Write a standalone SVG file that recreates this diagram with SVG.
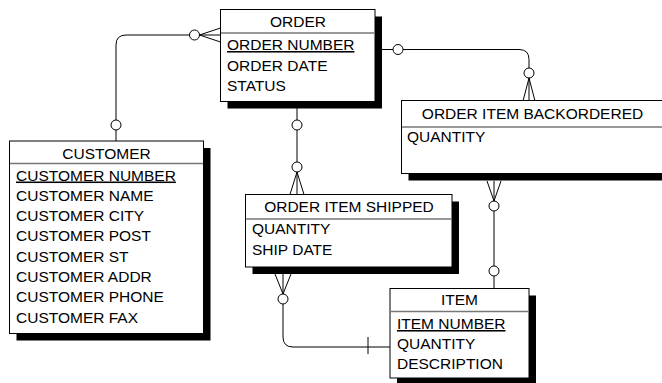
<svg xmlns="http://www.w3.org/2000/svg" width="662" height="383" viewBox="0 0 662 383">
<style>
.box{fill:#fff;stroke:#000;stroke-width:1}
.sh{fill:#000}
.sep{stroke:#777;stroke-width:1.5}
text{font-family:"Liberation Sans",Arial,sans-serif;font-size:15.5px;fill:#000}
.h{text-anchor:middle}
.u{text-decoration:underline}
.c{fill:none;stroke:#000;stroke-width:1}
.o{fill:#fff;stroke:#000;stroke-width:1}
</style>
<rect width="662" height="383" fill="#fff"/>
<g id="connectors">
<path class="c" d="M116,141 V130 M116,120 V45 Q116,35 126,35 H189.5"/>
<circle class="o" cx="116" cy="125" r="5"/>
<circle class="o" cx="194.5" cy="35" r="5"/>
<path class="c" d="M199.5,35 L220.5,28 M199.5,35 L220.5,35 M199.5,35 L220.5,42"/>
<path class="c" d="M382,49.5 H393 M403,49.5 H519 Q529,49.5 529,59.5 V68"/>
<circle class="o" cx="398" cy="49.5" r="5"/>
<circle class="o" cx="529" cy="73" r="5"/>
<path class="c" d="M529,78 L523,101 M529,78 L529,101 M529,78 L535,101"/>
<path class="c" d="M297,108 V120 M297,130 V162"/>
<circle class="o" cx="297" cy="125" r="5"/>
<circle class="o" cx="297" cy="167" r="5"/>
<path class="c" d="M297,172 L290,194.5 M297,172 L297,194.5 M297,172 L304,194.5"/>
<path class="c" d="M487,181 L494,201 M494,181 L494,201 M501,181 L494,201 M494,211 V266 M494,276 V288.5"/>
<circle class="o" cx="494" cy="206" r="5"/>
<circle class="o" cx="494" cy="271" r="5"/>
<path class="c" d="M275,274 L283,294 M283,274 L283,294 M291,274 L283,294 M283,304 V337 Q283,347 293,347 H390 M368,337 V354"/>
<circle class="o" cx="283" cy="299" r="5"/>
</g>
<g id="order">
<rect class="sh" x="227.5" y="16.5" width="154.5" height="92"/>
<rect class="box" x="220.5" y="9.5" width="154.5" height="92"/>
<line class="sep" x1="221" y1="33" x2="374.5" y2="33"/>
<text class="h" x="298" y="27">ORDER</text>
<text class="u" x="227" y="50">ORDER NUMBER</text>
<text x="227" y="71">ORDER DATE</text>
<text x="227" y="91">STATUS</text>
</g>
<g id="customer">
<rect class="sh" x="16.5" y="148" width="194" height="192.5"/>
<rect class="box" x="9.5" y="141" width="194" height="192.5"/>
<line class="sep" x1="10" y1="163.5" x2="203" y2="163.5"/>
<text class="h" x="106.5" y="158.5">CUSTOMER</text>
<text class="u" x="16" y="180.5">CUSTOMER NUMBER</text>
<text x="16" y="200.8">CUSTOMER NAME</text>
<text x="16" y="221">CUSTOMER CITY</text>
<text x="16" y="241.3">CUSTOMER POST</text>
<text x="16" y="261.6">CUSTOMER ST</text>
<text x="16" y="281.9">CUSTOMER ADDR</text>
<text x="16" y="302.2">CUSTOMER PHONE</text>
<text x="16" y="322.5">CUSTOMER FAX</text>
</g>
<g id="order-item-backordered">
<rect class="sh" x="408.5" y="107.5" width="261" height="73"/>
<rect class="box" x="401.5" y="100.5" width="261" height="73"/>
<line class="sep" x1="402" y1="127" x2="662" y2="127"/>
<text class="h" x="532.5" y="119">ORDER ITEM BACKORDERED</text>
<text x="407" y="141.7">QUANTITY</text>
</g>
<g id="order-item-shipped">
<rect class="sh" x="252.5" y="201.5" width="206.5" height="72.5"/>
<rect class="box" x="245.5" y="194.5" width="206.5" height="72.5"/>
<line class="sep" x1="246" y1="219" x2="451.5" y2="219"/>
<text class="h" x="349" y="212">ORDER ITEM SHIPPED</text>
<text x="252" y="234">QUANTITY</text>
<text x="252" y="255">SHIP DATE</text>
</g>
<g id="item">
<rect class="sh" x="397" y="295.5" width="139" height="89.5"/>
<rect class="box" x="390" y="288.5" width="139" height="89.5"/>
<line class="sep" x1="390.5" y1="311.5" x2="528.5" y2="311.5"/>
<text class="h" x="459.5" y="305">ITEM</text>
<text class="u" x="397" y="329">ITEM NUMBER</text>
<text x="397" y="349">QUANTITY</text>
<text x="397" y="369">DESCRIPTION</text>
</g>
</svg>
